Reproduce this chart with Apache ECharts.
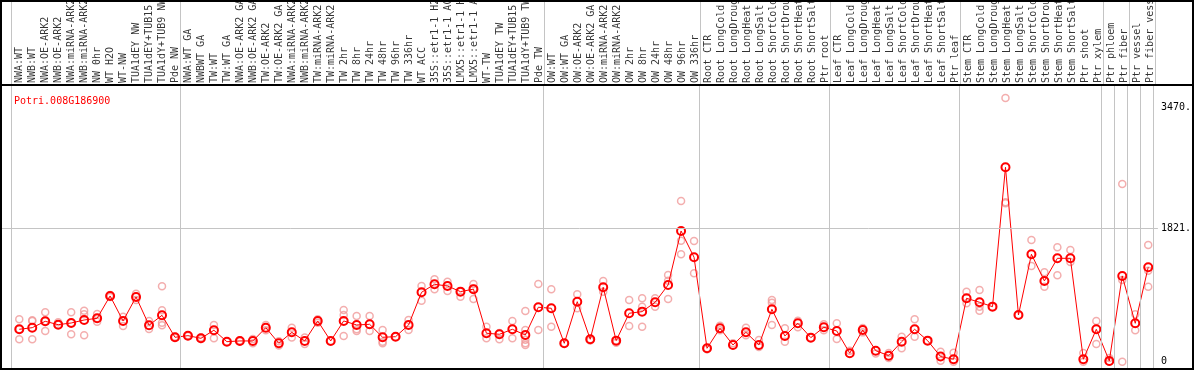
<!DOCTYPE html>
<html><head><meta charset="utf-8">
<script src="https://cdn.jsdelivr.net/npm/echarts@6/dist/echarts.min.js"></script>
<style>html,body{margin:0;padding:0;background:#fff}#c{width:1194px;height:370px}</style>
</head><body><div id="c"></div><script>
const geneName = 'Potri.008G186900';
const categories = [
 'NWA:WT','NWB:WT','NWA:OE-ARK2','NWB:OE-ARK2','NWA:miRNA-ARK2','NWB:miRNA-ARK2','NW 0hr','WT H2O','WT-NW','TUA1dEY NW','TUA1dEY+TUB15','TUA1dY+TUB9 NW','Pde NW',
 'NWA:WT GA','NWBWT GA','TW:WT','TW:WT GA','NWA:OE-ARK2 GA','NWB:OE-ARK2 GA','TW:OE-ARK2','TW:OE-ARK2 GA','NWA:miRNA-ARK2','NWB:miRNA-ARK2','TW:miRNA-ARK2','TW:miRNA-ARK2','TW 2hr','TW 8hr','TW 24hr','TW 48hr','TW 96hr','TW 336hr','WT ACC','35S::etr1-1 H2','35S::etr1-1 AC','LMX5::etr1-1 H','LMX5::etr1-1 A','WT-TW','TUA1dEY TW','TUA1dEY+TUB15','TUA1dY+TUB9 TW','Pde TW',
 'OW:WT','OW:WT GA','OW:OE-ARK2','OW:OE-ARK2 GA','OW:miRNA-ARK2','OW:miRNA-ARK2','OW 2hr','OW 8hr','OW 24hr','OW 48hr','OW 96hr','OW 336hr',
 'Root CTR','Root LongCold','Root LongDroug','Root LongHeat','Root LongSalt','Root ShortCold','Root ShortDrou','Root ShortHeat','Root ShortSalt','Ptr root',
 'Leaf CTR','Leaf LongCold','Leaf LongDroug','Leaf LongHeat','Leaf LongSalt','Leaf ShortCold','Leaf ShortDrou','Leaf ShortHeat','Leaf ShortSalt','Ptr leaf',
 'Stem CTR','Stem LongCold','Stem LongDroug','Stem LongHeat','Stem LongSalt','Stem ShortCold','Stem ShortDrou','Stem ShortHeat','Stem ShortSalt','Ptr shoot',
 'Ptr xylem','Ptr phloem','Ptr fiber','Ptr vessel','Ptr fiber vessel'
];
const means = [
 442,464,551,505,528,569,592,897,556,883,497,633,333,
 355,319,429,273,283,283,464,251,401,283,556,283,556,501,510,333,341,501,947,1056,1033,956,990,388,374,442,364,743,
 729,251,819,306,1015,287,661,683,811,1047,1784,1425,
 183,456,228,401,228,715,351,524,328,470,
 419,115,433,150,82,273,442,287,70,33,
 865,811,751,2654,637,1466,1102,1411,1411,33,
 442,10,1170,524,1289
];
const replicates = [
 [579,306,442],[565,306,556],[674,419,551],[538,505],[674,374,528],[696,647,360],[651,546,592],[910,883],[614,487],[928,842],[556,446],[1029,702,532,497],[340,325],
 [360,350],[330,310],[501,319],[273],[290,280],[250,310],[500,430],[280,220],[464,330],[330,240],[580,530],[283],[706,637,351],[624,442,420],[624,419],[433,273,250],[341],[569,433],[1033,833],[1125,988],[1092,965],[956,887],[1061,856,1000],[478,319],[390,306],[556,319],[692,433,300,250,228],[1061,433],
 [988,478],[251],[920,729],[306,290],[1102,956],[260,290],[842,487],[865,751,478],[865,751],[1183,1106,856],[2193,1652,1466],[1648,1207],
 [183,170],[490,430],[250],[464,360],[296,200],[842,806,501],[456,273],[560,470],[328],[510,430],
 [524,310],[150],[460,400],[110],[120,50],[341,183],[579,341],[287],[137,14],[123,0],
 [956,797],[979,696,750],[751],[3600,2176,2162],[637],[1661,1306],[1220,1024],[1562,1179],[1525,1360],[120,0],
 [556,242],[0,50],[2426,1115,0],[647,429],[1593,1242,1024]
];
const yTickLabels = [0, 1821, 3470];
const plotBoundaries = [0,13,41,53,63,73,84,85,86,87,88];
const headerBoundaries = [0,13,41,53,63,73,84,86,88];

const FONT = 'DejaVu Sans Mono';
const XMIN = -1.408, XMAX = 87.746, OFF = 0.6;
const gridLine = {color:'#c4c4c4', width:1, type:'solid'};

const chart = echarts.init(document.getElementById('c'), null, {renderer:'canvas'});
const repData = [];
replicates.forEach((arr,i)=>arr.forEach(v=>repData.push([i,v])));

chart.setOption({
  animation:false,
  backgroundColor:'#fff',
  title:{text:geneName,left:9,top:91,textStyle:{fontFamily:FONT,fontSize:10,fontWeight:'normal',color:'#ff0000'}},
  grid:[
    {left:1,top:1,width:1159,height:84},
    {left:1,top:86,width:1159,height:283}
  ],
  xAxis:[
    {gridIndex:0,type:'value',min:XMIN,max:XMAX,show:false},
    {gridIndex:1,type:'value',min:XMIN,max:XMAX,show:false}
  ],
  yAxis:[
    {gridIndex:0,type:'value',min:0,max:1,show:false},
    {gridIndex:1,type:'value',min:-100,max:3763,position:'right',
     axisLine:{show:false},axisTick:{show:false},splitLine:{show:false},
     axisLabel:{customValues:yTickLabels,margin:3,fontFamily:FONT,fontSize:10,color:'#000',
       formatter:v=>v===0?'0':(v+'.')}}
  ],
  series:[
    {type:'scatter',xAxisIndex:0,yAxisIndex:0,silent:true,
     data:categories.map((c,i)=>[i,0,c]),symbolSize:0,
     label:{show:true,formatter:p=>p.data[2],rotate:90,position:'top',distance:2,
       align:'left',verticalAlign:'middle',fontFamily:FONT,fontSize:10,color:'#000'},
     markLine:{silent:true,symbol:['none','none'],label:{show:false},lineStyle:gridLine,
       data:headerBoundaries.map(b=>({xAxis:b-OFF}))}
    },
    {type:'scatter',xAxisIndex:1,yAxisIndex:1,silent:true,z:2,
     data:repData,symbol:'circle',symbolSize:7,
     itemStyle:{color:'rgba(0,0,0,0)',borderColor:'#f09a9a',borderWidth:1.5},
     markLine:{silent:true,symbol:['none','none'],label:{show:false},lineStyle:gridLine,
       data:plotBoundaries.map(b=>({xAxis:b-OFF})).concat([{yAxis:1821}])}
    },
    {type:'line',xAxisIndex:1,yAxisIndex:1,silent:true,z:3,
     data:means.map((v,i)=>[i,v]),symbol:'circle',symbolSize:8,showSymbol:true,
     lineStyle:{color:'#ff0000',width:1},
     itemStyle:{color:'rgba(0,0,0,0)',borderColor:'#ff0000',borderWidth:2}
    }
  ],
  graphic:[
    {type:'rect',silent:true,z:100,shape:{x:1,y:1,width:1192,height:368},style:{fill:'none',stroke:'#000',lineWidth:2}},
    {type:'line',silent:true,z:100,shape:{x1:0,y1:85,x2:1194,y2:85},style:{stroke:'#000',lineWidth:2}}
  ]
});
</script></body></html>
